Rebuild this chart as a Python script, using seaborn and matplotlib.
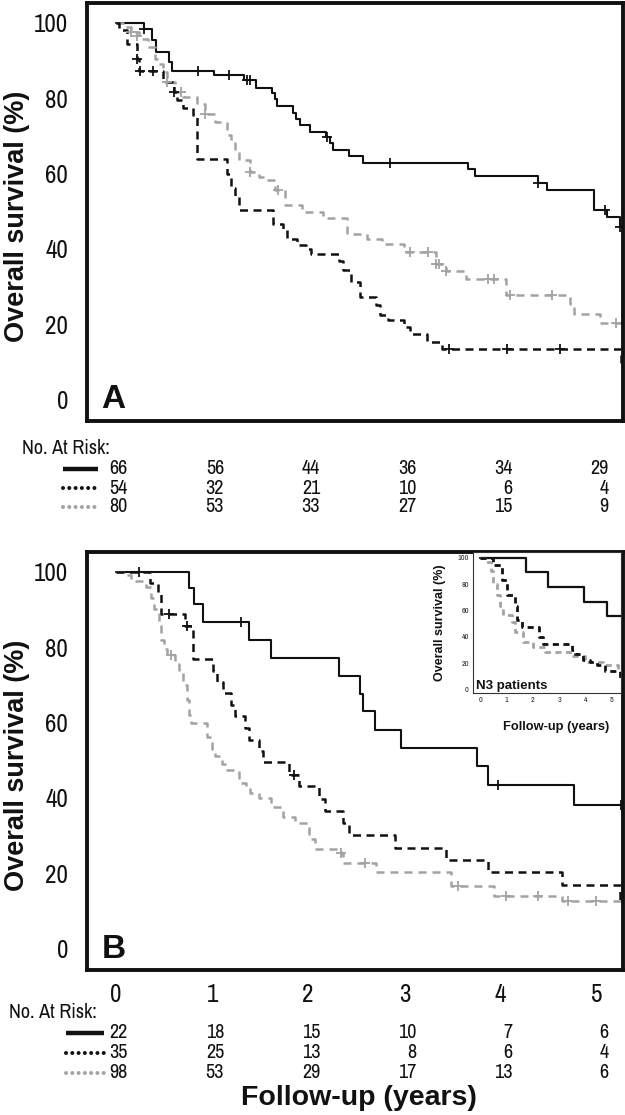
import matplotlib
matplotlib.use('Agg')
import matplotlib.pyplot as plt
import matplotlib.transforms as mtrans
from matplotlib.lines import Line2D
import seaborn as sns

# ---------------- data ----------------
years = [0, 1, 2, 3, 4, 5]
y_ticks = [0, 20, 40, 60, 80, 100]

# Panel A
A_solid_t = [0, 0.29, 0.38, 0.42, 0.555, 0.585, 1.02, 1.33, 1.46, 1.62, 1.65, 1.68, 1.84, 1.87, 1.91,
             2.02, 2.19, 2.23, 2.26, 2.42, 2.57, 3.66, 3.73, 4.39, 4.48, 4.97, 5.11, 5.24, 5.27]
A_solid_s = [100, 98.5, 95.4, 92.3, 89.6, 87.2, 86.1, 84.8, 82.8, 81.3, 79.7, 77.9, 76.2, 74.6, 72.8,
             71.1, 69.6, 68.0, 66.3, 64.7, 62.7, 61.1, 59.3, 57.5, 55.7, 50.2, 48.5, 45.8, 45.8]
A_solid_ct = [0.29, 0.85, 1.18, 1.36, 1.40, 2.20, 2.85, 4.39, 5.09, 5.24]
A_solid_cs = [98.5, 87.2, 86.1, 84.8, 84.8, 69.6, 62.7, 57.5, 50.2, 45.8]

A_dash_t = [0, 0.03, 0.12, 0.22, 0.24, 0.49, 0.60, 0.64, 0.70, 0.80, 0.84, 1.16, 1.20, 1.24, 1.28,
            1.63, 1.74, 1.78, 1.88, 1.98, 2.03, 2.32, 2.36, 2.44, 2.54, 2.71, 2.75, 2.83, 3.00, 3.06,
            3.23, 3.39, 5.25, 5.27]
A_dash_s = [100, 98.2, 94.5, 90.5, 87.2, 84.3, 81.7, 79.5, 77.3, 75.5, 64.0, 60.0, 56.1, 53.8, 50.3,
            46.7, 45.0, 42.5, 41.0, 40.1, 38.6, 36.7, 34.3, 31.2, 27.1, 25.0, 22.4, 21.1, 19.3, 17.3,
            15.3, 13.4, 9.6, 9.6]
A_dash_ct = [0.22, 0.25, 0.39, 0.60, 3.46, 4.07, 4.62]
A_dash_cs = [90.5, 87.2, 87.2, 81.7, 13.4, 13.4, 13.4]

A_gray_t = [0, 0.08, 0.16, 0.24, 0.33, 0.41, 0.45, 0.49, 0.53, 0.62, 0.70, 0.84, 0.93, 1.03, 1.16,
            1.20, 1.24, 1.28, 1.40, 1.49, 1.57, 1.65, 1.76, 1.94, 2.15, 2.40, 2.61, 2.77, 3.00, 3.33,
            3.43, 3.64, 4.06, 4.72, 4.76, 5.03, 5.27]
A_gray_s = [100, 98.9, 97.6, 95.8, 93.6, 90.5, 89.2, 87.0, 84.3, 81.7, 80.3, 78.6, 75.9, 73.7, 70.2,
            68.4, 65.7, 63.5, 60.4, 59.1, 58.2, 55.6, 51.6, 49.8, 48.2, 43.9, 42.7, 41.3, 39.2, 36.1,
            34.2, 32.1, 27.7, 25.5, 22.8, 20.2, 20.2]
A_gray_ct = [0.16, 0.22, 0.53, 0.68, 0.93, 1.40, 1.69, 3.06, 3.25, 3.33, 3.36, 3.43, 3.87, 3.93, 4.10, 4.53, 5.20]
A_gray_cs = [97.6, 96.5, 84.3, 81.7, 75.9, 60.4, 55.6, 39.2, 39.2, 36.1, 36.1, 34.2, 32.1, 32.1, 27.7, 27.7, 20.2]

A_risk_solid = [66, 56, 44, 36, 34, 29]
A_risk_dash = [54, 32, 21, 10, 6, 4]
A_risk_gray = [80, 53, 33, 27, 15, 9]

# Panel B
B_solid_t = [0, 0.76, 0.81, 0.91, 1.38, 1.61, 2.32, 2.54, 2.565, 2.69, 2.96, 3.75, 3.87, 4.76, 5.27]
B_solid_s = [100, 95.7, 91.3, 86.6, 82.0, 77.1, 72.4, 67.6, 62.9, 58.1, 53.2, 48.5, 43.5, 38.2, 38.2]
B_solid_ct = [0.24, 1.30, 3.97, 5.25]
B_solid_cs = [100, 86.6, 43.5, 38.2]

B_dash_t = [0, 0.35, 0.44, 0.47, 0.72, 0.80, 1.01, 1.05, 1.11, 1.20, 1.24, 1.34, 1.38, 1.49, 1.53,
            1.80, 1.90, 2.11, 2.17, 2.36, 2.42, 2.90, 3.43, 3.87, 4.64, 5.24, 5.27]
B_dash_s = [100, 97.1, 94.3, 88.8, 85.7, 76.8, 73.7, 70.6, 67.8, 64.7, 61.6, 58.5, 55.4, 52.4, 49.4,
            46.1, 43.0, 39.7, 36.4, 33.2, 30.0, 26.7, 23.6, 20.2, 16.9, 12.1, 12.1]
B_dash_ct = [0.555, 0.74, 1.85]
B_dash_cs = [88.8, 85.7, 46.1]

B_gray_t = [0, 0.12, 0.16, 0.31, 0.37, 0.40, 0.45, 0.47, 0.50, 0.53, 0.62, 0.66, 0.70, 0.74, 0.76,
            0.78, 0.95, 1.00, 1.03, 1.10, 1.16, 1.28, 1.35, 1.40, 1.49, 1.61, 1.74, 1.86, 2.01, 2.07,
            2.34, 2.36, 2.71, 3.48, 3.93, 4.64, 5.27]
B_gray_s = [100, 99.0, 97.5, 96.0, 93.0, 90.0, 86.0, 82.0, 79.5, 78.0, 75.5, 73.0, 70.0, 66.0, 62.0,
            59.9, 56.0, 53.0, 51.0, 49.0, 47.5, 44.0, 42.5, 41.3, 39.9, 37.5, 35.0, 33.3, 29.0, 26.4,
            25.3, 22.7, 20.2, 16.5, 14.0, 12.5, 12.5]
B_gray_ct = [0.57, 2.34, 2.59, 3.56, 4.06, 4.39, 4.70, 4.99]
B_gray_cs = [78.0, 25.3, 22.7, 16.5, 14.0, 14.0, 12.5, 12.5]

B_risk_solid = [22, 18, 15, 10, 7, 6]
B_risk_dash = [35, 25, 13, 8, 6, 4]
B_risk_gray = [98, 53, 29, 17, 13, 6]

# Inset (N3 patients)
N3_solid_t = [0, 1.74, 2.59, 3.94, 4.83, 5.35]
N3_solid_s = [100, 88.9, 77.8, 66.7, 55.6, 55.6]
N3_dash_t = [0, 0.49, 0.81, 1.03, 1.32, 1.41, 1.57, 2.23, 2.40, 3.47, 3.60, 3.92, 4.17, 4.43, 4.74, 5.31, 5.35]
N3_dash_s = [100, 94.5, 83.1, 72.0, 63.0, 53.0, 47.6, 40.0, 34.2, 30.0, 26.6, 22.3, 21.0, 18.5, 14.1, 8.0, 8.0]
N3_gray_t = [0, 0.18, 0.39, 0.49, 0.65, 0.75, 0.87, 1.19, 1.32, 1.64, 2.02, 2.46, 3.41, 3.98, 4.68, 5.25, 5.35]
N3_gray_s = [100, 97, 90, 80, 72, 63, 56.5, 51.4, 43.8, 36.2, 32.4, 28.6, 25.5, 21.0, 18.5, 14.7, 14.7]

# ---------------- style ----------------
sns.set_style('white')
plt.rcParams['font.family'] = ['Liberation Sans', 'DejaVu Sans']
NARROW = ['Archivo Narrow', 'Liberation Sans']

BLACK = '#111111'
GRAY = '#a3a3a3'
W, H = 625, 1115

fig = plt.figure(figsize=(W / 100, H / 100), dpi=100)
fig.patch.set_facecolor('white')


def px_rect(left, top, right, bottom):
    return [left / W, 1 - bottom / H, (right - left) / W, (bottom - top) / H]


axA = fig.add_axes(px_rect(87, 3, 622.7, 421))
axB = fig.add_axes(px_rect(87, 551.7, 622.7, 970))


def km(ax, t, s, color, ls, lw, ct=None, cs=None, ms=45, mlw=1.3):
    sns.lineplot(x=t, y=s, ax=ax, color=color, linewidth=lw, linestyle=ls,
                 drawstyle='steps-post', estimator=None, sort=False, zorder=2)
    if ct:
        sns.scatterplot(x=ct, y=cs, ax=ax, marker='+', color=color, s=ms,
                        linewidth=mlw, zorder=3)


DASH_K = (0, (3.2, 2.2))
DASH_G = (0, (3.2, 2.4))

for ax in (axA, axB):
    ax.set_xlim(-0.30, 5.27)
    ax.set_ylim(-5.7, 105.3)
    ax.set_yticks(y_ticks)
    ax.set_xticks(years)
    for sp in ax.spines.values():
        sp.set_linewidth(2.8)
        sp.set_color(BLACK)
    ax.tick_params(axis='y', direction='out', length=10, width=2.8, pad=3.5,
                   labelsize=18, colors=BLACK)
    ax.tick_params(axis='x', direction='out', length=8.6, width=2.8, pad=0.5,
                   labelsize=18, colors=BLACK)
    for lab in ax.get_yticklabels() + ax.get_xticklabels():
        lab.set_family(NARROW)

km(axA, A_solid_t, A_solid_s, BLACK, '-', 1.5, A_solid_ct, A_solid_cs)
km(axA, A_gray_t, A_gray_s, GRAY, DASH_G, 1.8, A_gray_ct, A_gray_cs)
km(axA, A_dash_t, A_dash_s, BLACK, DASH_K, 1.8, A_dash_ct, A_dash_cs)

km(axB, B_solid_t, B_solid_s, BLACK, '-', 1.5, B_solid_ct, B_solid_cs)
km(axB, B_gray_t, B_gray_s, GRAY, DASH_G, 1.8, B_gray_ct, B_gray_cs)
km(axB, B_dash_t, B_dash_s, BLACK, DASH_K, 1.8, B_dash_ct, B_dash_cs)

for ax in (axA, axB):
    ax.set_xlabel('')
    ax.set_ylabel('Overall survival (%)', fontsize=19.5, fontweight='bold', color=BLACK)
    ax.yaxis.set_label_coords(-0.1055, 0.49)
axA.set_xticklabels([])

axA.text(-0.15, -2.3, 'A', fontsize=24, fontweight='bold', ha='left', va='baseline', color=BLACK)
axB.text(-0.15, -2.5, 'B', fontsize=24, fontweight='bold', ha='left', va='baseline', color=BLACK)

fig.text((87 + 622.7) / 2 / W + 0.006, 1 - 1098 / H, 'Follow-up (years)', fontsize=20.5,
         fontweight='bold', ha='center', va='center', color=BLACK)


# ---------------- risk tables ----------------
def risk_table(ax, title_x, title_y, rows_y, samp_x, counts):
    trans = mtrans.blended_transform_factory(ax.transData, fig.transFigure)
    fig.text(title_x / W, 1 - title_y / H, 'No. At Risk:', ha='left', va='center',
             fontsize=14.5, family=NARROW, color=BLACK)
    styles = [dict(color=BLACK, linestyle='-', linewidth=3.2, solid_capstyle='butt'),
              dict(color=BLACK, linestyle=(0, (0.01, 1.55)), linewidth=2.9, dash_capstyle='round'),
              dict(color=GRAY, linestyle=(0, (0.01, 1.55)), linewidth=2.9, dash_capstyle='round')]
    for ry, st, cnt in zip(rows_y, styles, counts):
        yf = 1 - ry / H
        fig.add_artist(Line2D([samp_x[0] / W, samp_x[1] / W], [yf, yf],
                              transform=fig.transFigure, **st))
        for yr, n in zip(years, cnt):
            ax.text(yr + 0.125, yf, str(n), transform=trans, ha='right', va='center',
                    fontsize=14.5, family=NARROW, color=BLACK)


risk_table(axA, 22, 448, [469, 488, 507], (63, 98), [A_risk_solid, A_risk_dash, A_risk_gray])
risk_table(axB, 9, 1013, [1033, 1053, 1073], (66, 104), [B_risk_solid, B_risk_dash, B_risk_gray])

# ---------------- inset ----------------
axI = fig.add_axes(px_rect(473, 551.7, 621, 693))
axI.set_facecolor('white')
km(axI, N3_solid_t, N3_solid_s, BLACK, '-', 1.6)
km(axI, N3_gray_t, N3_gray_s, GRAY, (0, (2.2, 1.6)), 2.0)
km(axI, N3_dash_t, N3_dash_s, BLACK, (0, (2.2, 1.6)), 2.0)
axI.set_xlim(-0.28, 5.35)
axI.set_ylim(-2.8, 104.6)
axI.set_xticks(years)
axI.set_yticks(y_ticks)
for sp in axI.spines.values():
    sp.set_linewidth(0.8)
    sp.set_color('#333333')
axI.tick_params(axis='both', direction='out', length=2.2, width=0.7, pad=0.8,
                labelsize=5.8, colors='#222222')
for lab in axI.get_yticklabels() + axI.get_xticklabels():
    lab.set_family(NARROW)
axI.set_xlabel('Follow-up (years)', fontsize=9.3, fontweight='bold', color=BLACK)
axI.xaxis.set_label_coords(0.56, -0.2)
axI.set_ylabel('Overall survival (%)', fontsize=9, fontweight='bold', color=BLACK)
axI.yaxis.set_label_coords(-0.18, 0.5)
axI.text(0.02, 0.01, 'N3 patients', transform=axI.transAxes, fontsize=9.5,
         fontweight='bold', ha='left', va='bottom', color=BLACK)

fig.savefig('out.png', dpi=100, facecolor='white')
